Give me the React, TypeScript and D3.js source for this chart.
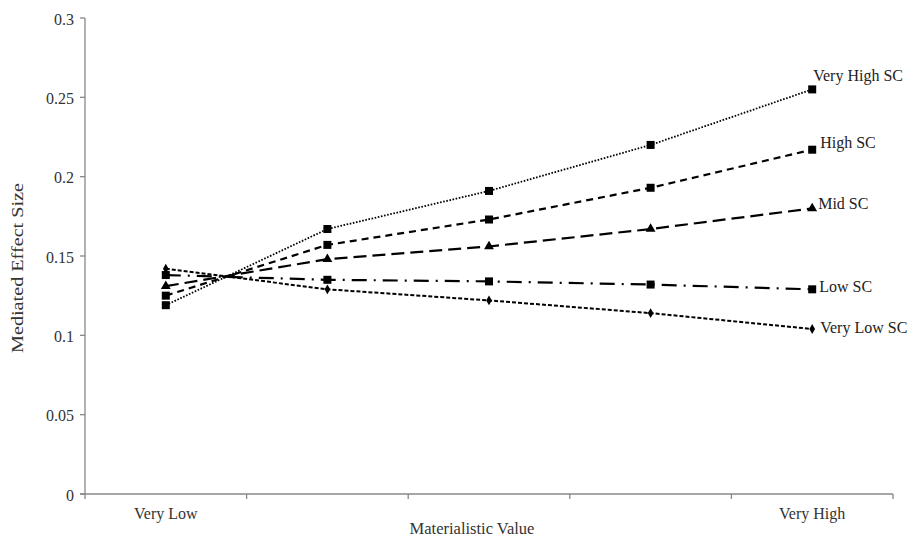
import React from "react";
import * as d3 from "d3";

const categories = ["Very Low", "Low", "Mid", "High", "Very High"];
const categoryLabels = ["Very Low", "", "", "", "Very High"];
const yTicks = [0, 0.05, 0.1, 0.15, 0.2, 0.25, 0.3];

const seriesNames = ["Very High SC", "High SC", "Mid SC", "Low SC", "Very Low SC"];
const veryHighSC = [0.119, 0.167, 0.191, 0.220, 0.255];
const highSC = [0.125, 0.157, 0.173, 0.193, 0.217];
const midSC = [0.131, 0.148, 0.156, 0.167, 0.180];
const lowSC = [0.138, 0.135, 0.134, 0.132, 0.129];
const veryLowSC = [0.142, 0.129, 0.122, 0.114, 0.104];
const seriesValues = [veryHighSC, highSC, midSC, lowSC, veryLowSC];

const styles = [
  { dash: "1.6,1.6", marker: "square", lw: 1.8 },
  { dash: "7,5", marker: "square", lw: 2.2 },
  { dash: "13,6", marker: "triangle", lw: 2.2 },
  { dash: "15,7,2,7", marker: "square", lw: 2.2 },
  { dash: "4,2", marker: "diamond", lw: 2 },
];
const labelOffsets = [
  { dx: 1, dy: -14 },
  { dx: 8, dy: -7 },
  { dx: 6, dy: -5 },
  { dx: 7, dy: -3 },
  { dx: 8, dy: -2 },
];

export default function App() {
  const W = 910, H = 539;
  const x = d3.scaleBand<string>().domain(categories).range([85, 893]);
  const y = d3.scaleLinear().domain([0, 0.3]).range([494, 18]);
  const cx = (c: string) => (x(c) as number) + x.bandwidth() / 2;
  const line = d3.line<number>().x((_, i) => cx(categories[i])).y((d) => y(d));
  const boundaries = categories.map((c) => x(c) as number).concat([893]);
  const font = "'Liberation Serif', 'Times New Roman', serif";

  const marker = (type: string, px: number, py: number, key: string) => {
    if (type === "square") return <rect key={key} x={px - 4} y={py - 4} width={8} height={8} fill="#000" />;
    if (type === "triangle") {
      const p = d3.symbol().type(d3.symbolTriangle).size(42)();
      return <path key={key} d={p as string} transform={`translate(${px},${py})`} fill="#000" />;
    }
    const p = d3.symbol().type(d3.symbolDiamond).size(28)();
    return <path key={key} d={p as string} transform={`translate(${px},${py})`} fill="#000" />;
  };

  return (
    <div style={{ position: "fixed", left: 0, top: 0 }}>
      <svg width={W} height={H} style={{ display: "block", background: "#fff" }} fontFamily={font}>
        {/* y axis */}
        <line x1={85} x2={85} y1={y(0.3)} y2={y(0)} stroke="#888" strokeWidth={1.3} />
        {yTicks.map((t) => (
          <g key={t}>
            <line x1={80} x2={85} y1={y(t)} y2={y(t)} stroke="#888" strokeWidth={1.3} />
            <text x={74} y={y(t) + 1} dy="0.35em" textAnchor="end" fontSize={16} fill="#333">{String(t)}</text>
          </g>
        ))}
        {/* x axis */}
        <line x1={80} x2={893} y1={494} y2={494} stroke="#888" strokeWidth={1.3} />
        {boundaries.map((b, i) => (
          <line key={i} x1={b} x2={b} y1={494} y2={499} stroke="#888" strokeWidth={1.3} />
        ))}
        {categories.map((c, i) => (
          <text key={c} x={cx(c)} y={519} textAnchor="middle" fontSize={16} fill="#333">{categoryLabels[i]}</text>
        ))}
        <text x={472} y={534} textAnchor="middle" fontSize={16.5} fill="#333">Materialistic Value</text>
        <text transform={`translate(23,268) rotate(-90)`} textAnchor="middle" fontSize={17} fill="#333" textLength={170} lengthAdjust="spacingAndGlyphs">Mediated Effect Size</text>
        {/* series */}
        {seriesValues.map((vals, si) => (
          <g key={seriesNames[si]}>
            <path d={line(vals) as string} fill="none" stroke="#000" strokeWidth={styles[si].lw} strokeDasharray={styles[si].dash} />
            {vals.map((v, i) => marker(styles[si].marker, cx(categories[i]), y(v), `${si}-${i}`))}
            <text x={cx(categories[4]) + labelOffsets[si].dx} y={y(vals[4]) + labelOffsets[si].dy} dy="0.35em" fontSize={16} fill="#222">{seriesNames[si]}</text>
          </g>
        ))}
      </svg>
    </div>
  );
}
